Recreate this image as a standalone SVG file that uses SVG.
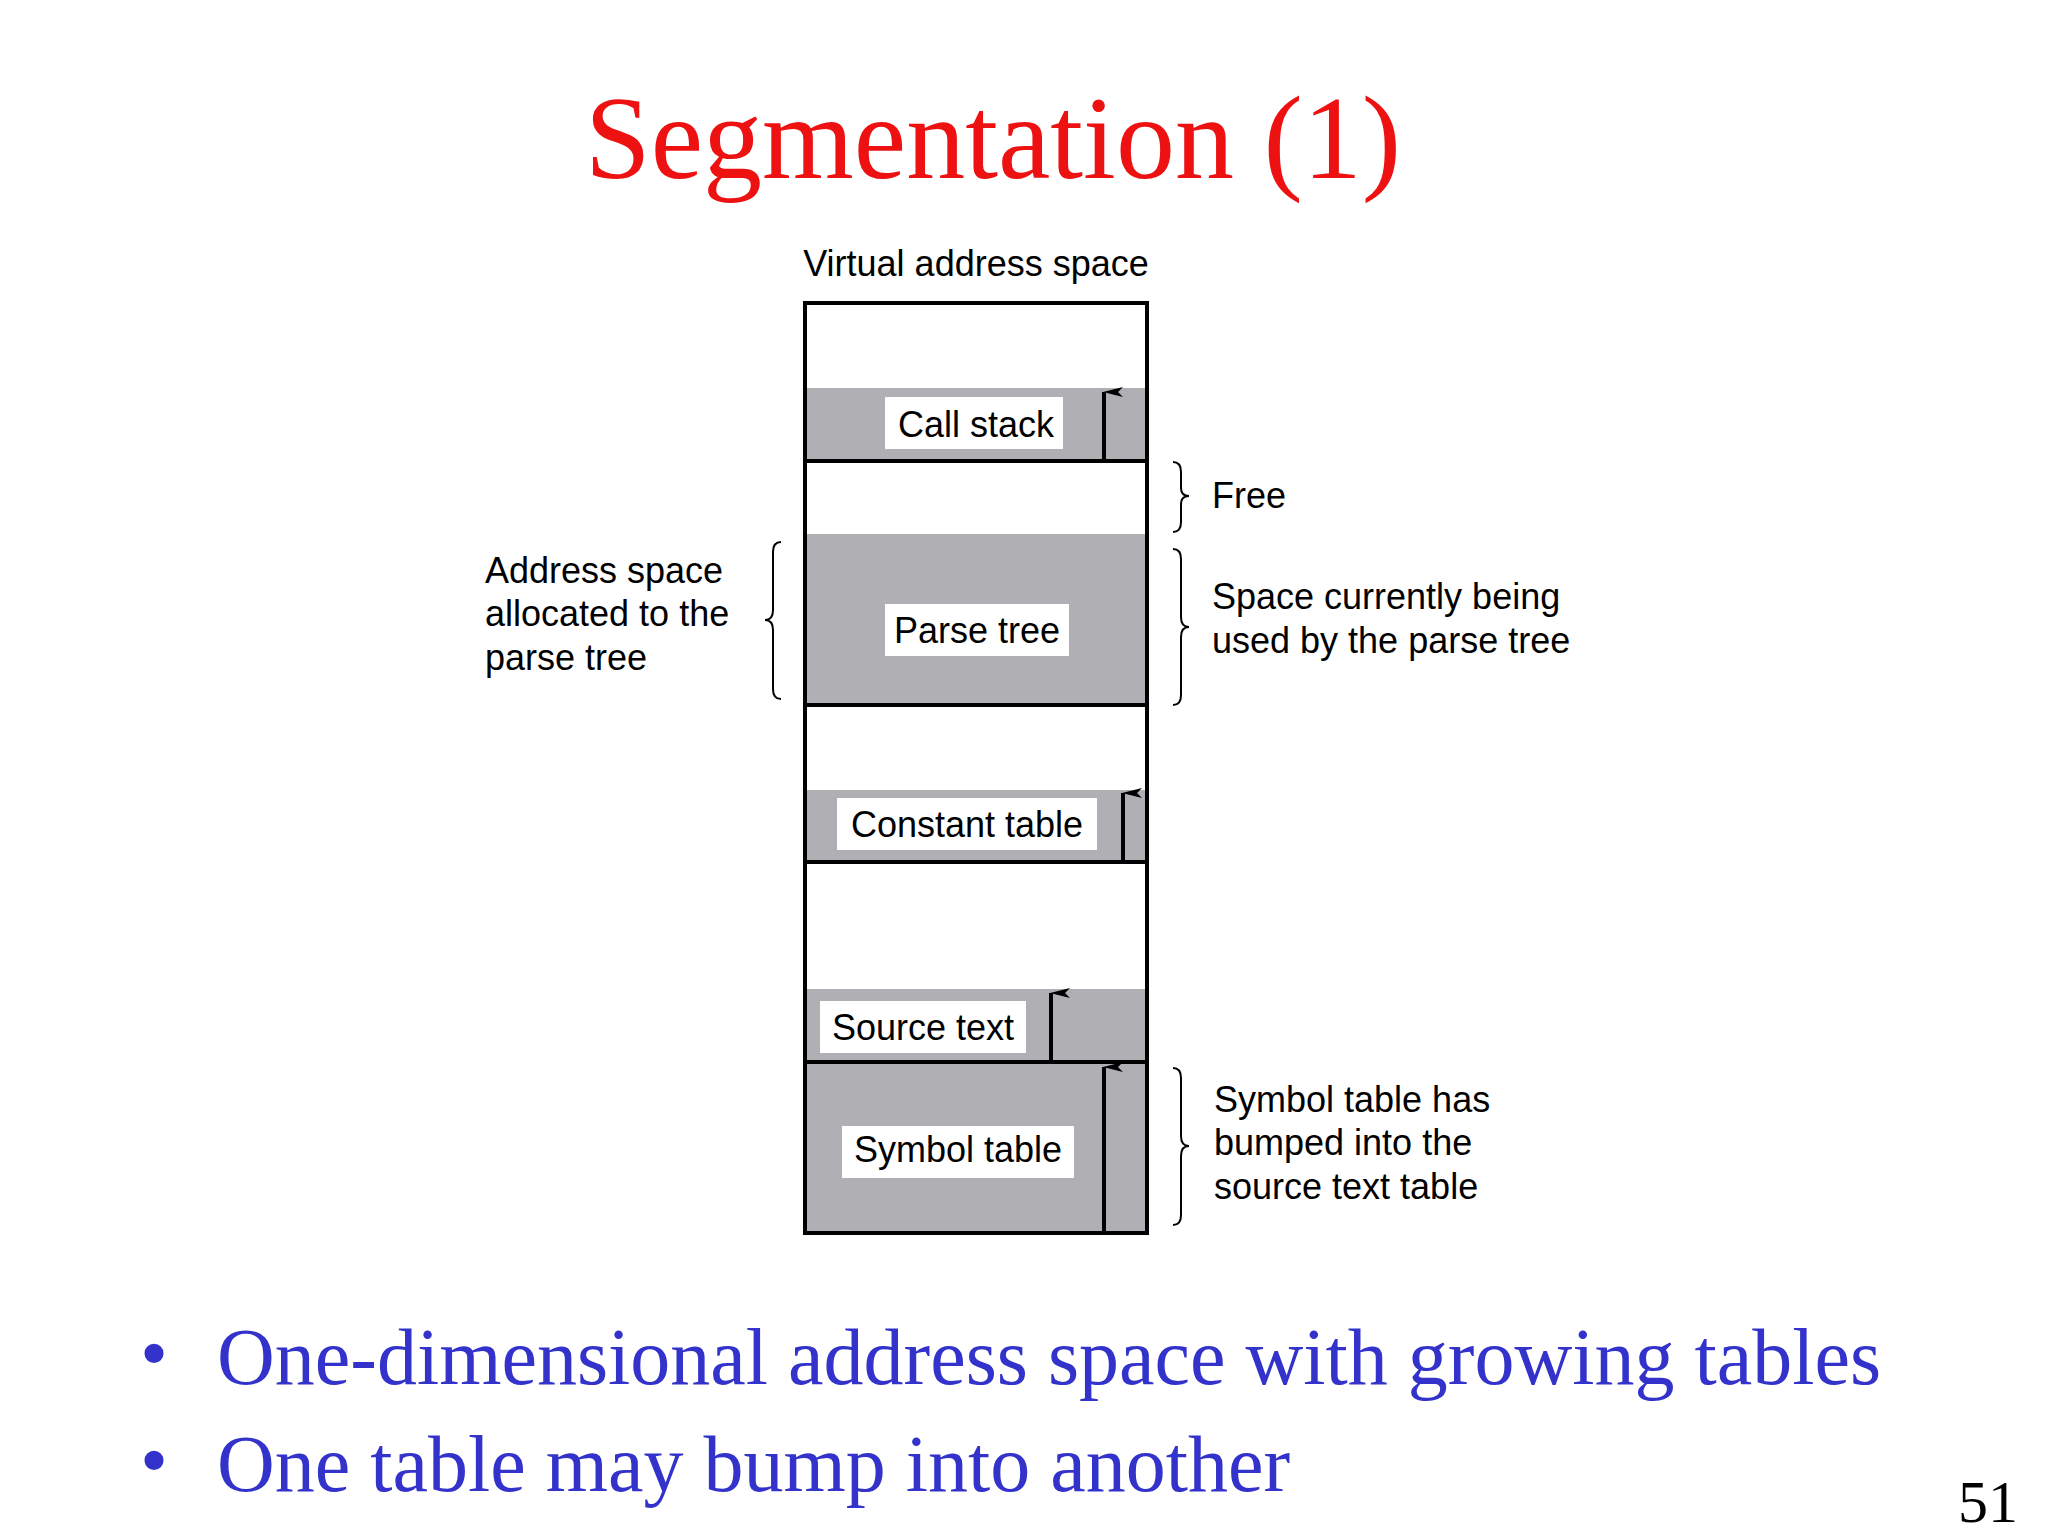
<svg xmlns="http://www.w3.org/2000/svg" width="2048" height="1536" viewBox="0 0 2048 1536">
<defs>
<style>
.t{font-family:"Liberation Sans",Arial,sans-serif;font-size:36px;fill:#000}
.c{text-anchor:middle}
.g{fill:#b0afb3}
.lb{fill:#fff}
.ln{stroke:#000;stroke-width:4;fill:none}
.br{stroke:#000;stroke-width:2;fill:none}
.b{font-family:"Liberation Serif","Times New Roman",serif;font-size:80px;fill:#3333cc}
</style>
<marker id="ah" viewBox="0 0 10 20" refX="5" refY="1" markerWidth="10" markerHeight="20" markerUnits="userSpaceOnUse" orient="auto-start-reverse">
<path d="M5,0 L10,20 L5,15 L0,20Z" fill="#000"/>
</marker>
</defs>
<rect width="2048" height="1536" fill="#fff"/>
<text x="993" y="178" text-anchor="middle" font-family="'Liberation Serif','Times New Roman',serif" font-size="118" fill="#ee1111">Segmentation (1)</text>
<text class="t c" x="976" y="276">Virtual address space</text>
<g id="segments">
<rect class="g" x="805" y="388" width="342" height="73"/>
<rect class="g" x="805" y="534" width="342" height="171"/>
<rect class="g" x="805" y="790" width="342" height="72"/>
<rect class="g" x="805" y="989" width="342" height="73"/>
<rect class="g" x="805" y="1062" width="342" height="171"/>
<rect class="ln" x="805" y="303" width="342" height="930"/>
<path class="ln" d="M805,461H1147M805,705H1147M805,862H1147M805,1062H1147"/>
</g>
<g id="call-stack"><rect class="lb" x="885" y="397" width="178" height="52"/><text class="t c" x="976" y="437">Call stack</text></g>
<g id="parse-tree"><rect class="lb" x="885" y="604" width="184" height="52"/><text class="t c" x="977" y="643">Parse tree</text></g>
<g id="constant-table"><rect class="lb" x="837" y="798" width="260" height="52"/><text class="t c" x="967" y="837">Constant table</text></g>
<g id="source-text"><rect class="lb" x="820" y="1001" width="206" height="52"/><text class="t c" x="923" y="1040">Source text</text></g>
<g id="symbol-table"><rect class="lb" x="842" y="1126" width="232" height="52"/><text class="t c" x="958" y="1162">Symbol table</text></g>
<g id="connectors">
<line class="ln" x1="1104" y1="461" x2="1104" y2="392" marker-end="url(#ah)"/>
<line class="ln" x1="1123" y1="862" x2="1123" y2="793" marker-end="url(#ah)"/>
<line class="ln" x1="1051" y1="1062" x2="1051" y2="993" marker-end="url(#ah)"/>
<line class="ln" x1="1104" y1="1233" x2="1104" y2="1067" marker-end="url(#ah)"/>
<path class="br" d="M1173,462 Q1181,462 1181,472 V488 Q1181,496 1189,496 Q1181,496 1181,504 V522 Q1181,532 1173,532"/>
<path class="br" d="M1173,549 Q1181,549 1181,559 V617 Q1181,627 1189,627 Q1181,627 1181,637 V695 Q1181,705 1173,705"/>
<path class="br" d="M1173,1068 Q1181,1068 1181,1078 V1136 Q1181,1146 1189,1146 Q1181,1146 1181,1156 V1215 Q1181,1225 1173,1225"/>
<path class="br" d="M781,542 Q773,542 773,552 V610 Q773,620 765,620 Q773,620 773,630 V689 Q773,699 781,699"/>
</g>
<g id="labels">
<text class="t" x="1212" y="508">Free</text>
<text class="t" x="1212" y="609">Space currently being</text>
<text class="t" x="1212" y="653">used by the parse tree</text>
<text class="t" x="485" y="583">Address space</text>
<text class="t" x="485" y="626">allocated to the</text>
<text class="t" x="485" y="670">parse tree</text>
<text class="t" x="1214" y="1112">Symbol table has</text>
<text class="t" x="1214" y="1155">bumped into the</text>
<text class="t" x="1214" y="1199">source text table</text>
</g>
<text class="b" x="140" y="1380">•</text>
<text class="b" x="217" y="1384">One-dimensional address space with growing tables</text>
<text class="b" x="140" y="1487">•</text>
<text class="b" x="217" y="1491">One table may bump into another</text>
<text x="2018" y="1522" text-anchor="end" font-family="'Liberation Serif',serif" font-size="60" fill="#000">51</text>
</svg>
